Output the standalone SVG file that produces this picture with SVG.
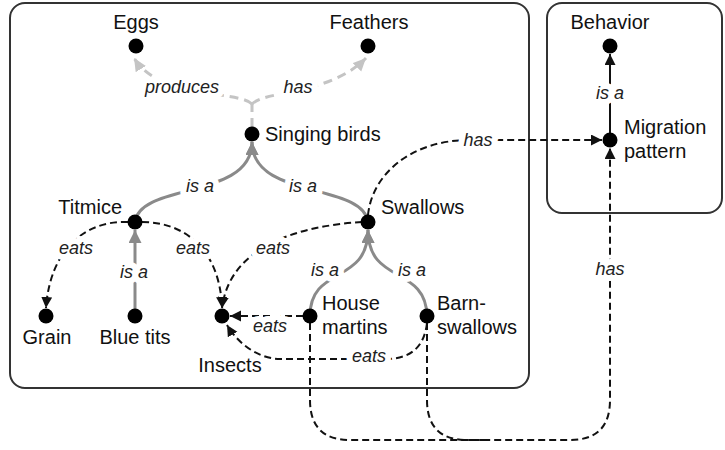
<svg xmlns="http://www.w3.org/2000/svg" width="725" height="450" viewBox="0 0 725 450">
<style>
  .box { fill: #fff; stroke: #333; stroke-width: 2; }
  .dot { fill: #000; }
  .nl { font-family: "Liberation Sans", Arial, sans-serif; font-size: 20px; fill: #111; }
  .el { font-family: "Liberation Sans", Arial, sans-serif; font-size: 18px; font-style: italic; fill: #222; text-anchor: middle; stroke: #fff; stroke-width: 12; stroke-linejoin: round; paint-order: stroke; }
  .isa { fill: none; stroke: #8a8a8a; stroke-width: 3; marker-end: url(#aGray); }
  .light { fill: none; stroke: #c4c4c4; stroke-width: 3; stroke-dasharray: 9 6; }
  .lightm { marker-end: url(#aLight); }
  .solid { fill: none; stroke: #111; stroke-width: 2; marker-end: url(#aBlack); }
  .dash { fill: none; stroke: #111; stroke-width: 2; stroke-dasharray: 7 4; }
  .dm { marker-end: url(#aBlack); }
</style>
<defs>
  <marker id="aGray" markerUnits="userSpaceOnUse" markerWidth="14" markerHeight="14" refX="13" refY="6.5" orient="auto">
    <path d="M0,0 L13,6.5 L0,13 Z" fill="#8a8a8a"/>
  </marker>
  <marker id="aLight" markerUnits="userSpaceOnUse" markerWidth="14" markerHeight="14" refX="13" refY="6" orient="auto">
    <path d="M0,0 L13,6 L0,12 Z" fill="#c4c4c4"/>
  </marker>
  <marker id="aBlack" markerUnits="userSpaceOnUse" markerWidth="13" markerHeight="12" refX="11" refY="5.5" orient="auto">
    <path d="M0,0 L11,5.5 L0,11 Z" fill="#111"/>
  </marker>
</defs>

<g id="containers">
  <rect id="birds-box" class="box" x="10" y="3" width="519" height="385" rx="15" ry="15"/>
  <rect id="behavior-box" class="box" x="547" y="3" width="175" height="210" rx="15" ry="15"/>
</g>

<g id="connectors">
  <!-- Singing birds -> Eggs / Feathers -->
  <path class="light" d="M252,127 L252,104" stroke-dasharray="none"/>
  <path class="light lightm" d="M252,104 C238,90 160,100 134,58"/>
  <path class="light lightm" d="M252,104 C266,90 330,95 366,58"/>
  <!-- is a : Titmice, Swallows -> Singing birds -->
  <path class="isa" d="M135,222 C140,182 252,200 252,142"/>
  <path class="isa" d="M368,222 C363,182 252,200 252,142"/>
  <!-- is a : Blue tits -> Titmice -->
  <path class="isa" d="M135,316 L135,230"/>
  <!-- is a : House martins, Barn-swallows -> Swallows -->
  <path class="isa" d="M310,316 C310,265 368,285 368,230"/>
  <path class="isa" d="M427,316 C426,265 368,285 368,230"/>
  <!-- is a : Migration pattern -> Behavior -->
  <path class="solid" d="M610,134 L610,54"/>
  <!-- eats -->
  <path class="dash dm" d="M128,222 C85,220 50,250 46,308"/>
  <path class="dash dm" d="M142,222 C185,222 220,250 222,308"/>
  <path class="dash dm" d="M362,222 C300,226 230,245 222,308"/>
  <path class="dash dm" d="M303,316 L230,316"/>
  <path class="dash dm" d="M427,323 C424,348 410,359 385,359 L280,359 C262,359 240,347 227,325"/>
  <!-- has -->
  <path class="dash dm" d="M368,215 C372,175 410,140 470,140 L602,140"/>
  <path class="dash dm" d="M310,323 L310,400 Q310,440 350,440 L570,440 Q610,440 610,400 L610,148"/>
  <path class="dash" d="M427,323 L427,400 Q427,440 467,440 L490,440"/>
</g>

<g id="edge-labels">
  <text class="el" x="182" y="93">produces</text>
  <text class="el" x="298" y="93">has</text>
  <text class="el" x="200" y="192">is a</text>
  <text class="el" x="303" y="192">is a</text>
  <text class="el" x="76" y="254">eats</text>
  <text class="el" x="193" y="254">eats</text>
  <text class="el" x="273" y="254">eats</text>
  <text class="el" x="134" y="278">is a</text>
  <text class="el" x="325" y="276">is a</text>
  <text class="el" x="412" y="276">is a</text>
  <text class="el" x="270" y="332">eats</text>
  <text class="el" x="369" y="362">eats</text>
  <text class="el" x="478" y="146">has</text>
  <text class="el" x="610" y="99">is a</text>
  <text class="el" x="610" y="275">has</text>
</g>

<g id="eggs"><circle class="dot" cx="136" cy="46" r="7.5"/><text class="nl" x="136" y="29" text-anchor="middle">Eggs</text></g>
<g id="feathers"><circle class="dot" cx="368" cy="46" r="7.5"/><text class="nl" x="369" y="29" text-anchor="middle">Feathers</text></g>
<g id="singing-birds"><circle class="dot" cx="252" cy="134" r="7.5"/><text class="nl" x="265" y="141">Singing birds</text></g>
<g id="titmice"><circle class="dot" cx="135" cy="222" r="7.5"/><text class="nl" x="122" y="214" text-anchor="end">Titmice</text></g>
<g id="swallows"><circle class="dot" cx="368" cy="222" r="7.5"/><text class="nl" x="381" y="214">Swallows</text></g>
<g id="grain"><circle class="dot" cx="46" cy="316" r="7.5"/><text class="nl" x="47" y="344" text-anchor="middle">Grain</text></g>
<g id="blue-tits"><circle class="dot" cx="135" cy="316" r="7.5"/><text class="nl" x="135" y="344" text-anchor="middle">Blue tits</text></g>
<g id="insects"><circle class="dot" cx="222" cy="316" r="7.5"/><text class="nl" x="230" y="372" text-anchor="middle">Insects</text></g>
<g id="house-martins"><circle class="dot" cx="310" cy="316" r="7.5"/><text class="nl" x="322" y="310">House</text><text class="nl" x="322" y="334">martins</text></g>
<g id="barn-swallows"><circle class="dot" cx="427" cy="316" r="7.5"/><text class="nl" x="437" y="310">Barn-</text><text class="nl" x="437" y="334">swallows</text></g>
<g id="behavior"><circle class="dot" cx="610" cy="46" r="7.5"/><text class="nl" x="610" y="29" text-anchor="middle">Behavior</text></g>
<g id="migration-pattern"><circle class="dot" cx="610" cy="140" r="7.5"/><text class="nl" x="624" y="134">Migration</text><text class="nl" x="624" y="158">pattern</text></g>
</svg>
